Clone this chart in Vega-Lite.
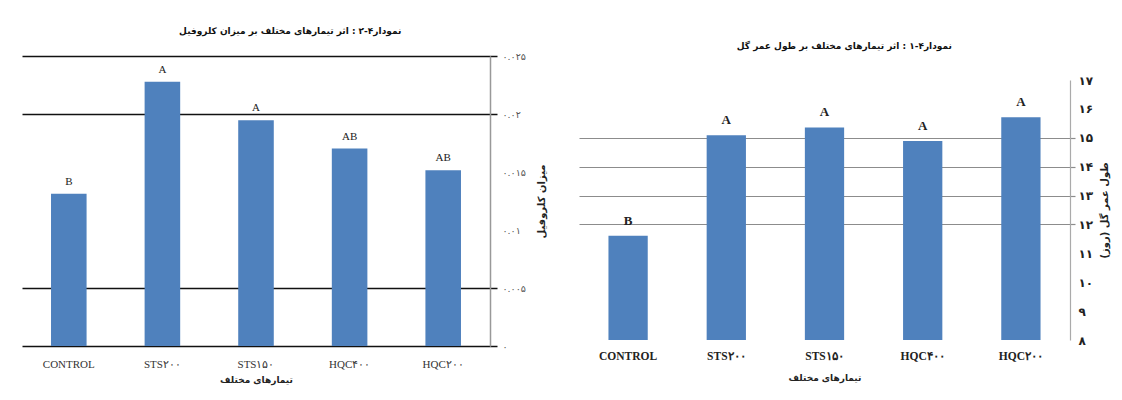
{
  "$schema": "https://vega.github.io/schema/vega-lite/v6.json",
  "padding": {"left": 22, "top": 27, "right": 5, "bottom": 5},
  "background": "white",
  "config": {"view": {"stroke": null}},
  "spacing": 32,
  "datasets": {
    "chl": [
      {"treatment": "CONTROL", "value": 0.01313, "letter": "B"},
      {"treatment": "STS۲۰۰", "value": 0.02278, "letter": "A"},
      {"treatment": "STS۱۵۰", "value": 0.01947, "letter": "A"},
      {"treatment": "HQC۴۰۰", "value": 0.01702, "letter": "AB"},
      {"treatment": "HQC۲۰۰", "value": 0.01515, "letter": "AB"}
    ],
    "life": [
      {"treatment": "CONTROL", "value": 11.61, "letter": "B"},
      {"treatment": "STS۲۰۰", "value": 15.09, "letter": "A"},
      {"treatment": "STS۱۵۰", "value": 15.36, "letter": "A"},
      {"treatment": "HQC۴۰۰", "value": 14.89, "letter": "A"},
      {"treatment": "HQC۲۰۰", "value": 15.71, "letter": "A"}
    ]
  },
  "hconcat": [
    {
      "width": 468,
      "height": 290,
      "title": {"text": "نمودار۴-۲ : اثر تیمارهای مختلف بر میزان کلروفیل", "font": "DejaVu Sans", "fontSize": 9, "fontWeight": "bold", "color": "#111", "offset": 15, "frame": "bounds", "dx": 6},
      "data": {"name": "chl"},
      "encoding": {
        "x": {
          "field": "treatment", "type": "nominal", "sort": null,
          "scale": {"paddingInner": 0.62, "paddingOuter": 0.31},
          "axis": {
            "title": "تیمارهای مختلف", "titleFont": "DejaVu Sans", "titleFontSize": 9, "titleFontWeight": "bold", "titleColor": "#222", "titlePadding": 6,
            "labelAngle": 0, "labelFont": "Liberation Serif", "labelFontSize": 11, "labelColor": "#333", "labelPadding": 12,
            "domain": false, "ticks": false
          }
        },
        "y": {
          "field": "value", "type": "quantitative",
          "scale": {"domain": [0, 0.025]},
          "axis": {
            "orient": "right",
            "values": [0, 0.005, 0.01, 0.015, 0.02, 0.025],
            "format": ".3~f",
            "labelExpr": "replace(replace(replace(replace(replace(replace(replace(replace(replace(replace(datum.label,regexp('0','g'),'۰'),regexp('1','g'),'۱'),regexp('2','g'),'۲'),regexp('3','g'),'۳'),regexp('4','g'),'۴'),regexp('5','g'),'۵'),regexp('6','g'),'۶'),regexp('7','g'),'۷'),regexp('8','g'),'۸'),regexp('9','g'),'۹')",
            "grid": true, "gridColor": "#111", "gridWidth": 1.5,
            "gridOpacity": {"condition": {"test": "datum.value > 0.008 && datum.value < 0.018", "value": 0}, "value": 1},
            "tickColor": "#111", "tickWidth": 1.5, "tickSize": 7,
            "tickOpacity": {"condition": {"test": "datum.value > 0.008 && datum.value < 0.018", "value": 0}, "value": 1},
            "domainColor": "#999", "domainWidth": 1.5,
            "labelFont": "DejaVu Sans", "labelFontSize": 9.5, "labelColor": "#555", "labelPadding": 5,
            "title": "میزان کلروفیل", "titleAngle": 270, "titleFont": "DejaVu Sans", "titleFontSize": 10, "titleFontWeight": "bold", "titleColor": "#222", "titlePadding": 21
          }
        }
      },
      "layer": [
        {"mark": {"type": "bar", "color": "#4F81BD"}},
        {"mark": {"type": "text", "baseline": "bottom", "dy": -7, "font": "Liberation Serif", "fontSize": 11, "color": "#222"}, "encoding": {"text": {"field": "letter"}}}
      ]
    },
    {
      "width": 491,
      "height": 284,
      "title": {"text": "نمودار۴-۱ : اثر تیمارهای مختلف بر طول عمر گل", "font": "DejaVu Sans", "fontSize": 9, "fontWeight": "bold", "color": "#111", "offset": 5, "frame": "bounds"},
      "data": {"name": "life"},
      "encoding": {
        "x": {
          "field": "treatment", "type": "nominal", "sort": null,
          "scale": {"paddingInner": 0.6, "paddingOuter": 0.3},
          "axis": {
            "title": "تیمارهای مختلف", "titleFont": "DejaVu Sans", "titleFontSize": 9, "titleFontWeight": "bold", "titleColor": "#222", "titlePadding": 12,
            "labelAngle": 0, "labelFont": "Liberation Serif", "labelFontSize": 11.5, "labelFontWeight": "bold", "labelColor": "#222", "labelPadding": 10,
            "domain": false, "ticks": false
          }
        },
        "y": {
          "field": "value", "type": "quantitative",
          "scale": {"domain": [8, 17], "zero": false, "range": [284, 24]},
          "axis": {
            "orient": "right",
            "values": [8, 9, 10, 11, 12, 13, 14, 15, 16, 17],
            "labelExpr": "replace(replace(replace(replace(replace(replace(replace(replace(replace(replace(datum.label,regexp('0','g'),'۰'),regexp('1','g'),'۱'),regexp('2','g'),'۲'),regexp('3','g'),'۳'),regexp('4','g'),'۴'),regexp('5','g'),'۵'),regexp('6','g'),'۶'),regexp('7','g'),'۷'),regexp('8','g'),'۸'),regexp('9','g'),'۹')",
            "grid": true, "gridColor": "#8c8c8c", "gridWidth": 1.2,
            "gridOpacity": {"condition": {"test": "datum.value < 12 || datum.value > 15", "value": 0}, "value": 1},
            "tickColor": "#8c8c8c", "tickWidth": 1.2, "tickSize": 5,
            "tickOpacity": {"condition": {"test": "datum.value < 12 || datum.value > 15", "value": 0}, "value": 1},
            "domainColor": "#aaa", "domainWidth": 1.2,
            "labelFont": "DejaVu Sans", "labelFontSize": 12, "labelFontWeight": "bold", "labelColor": "#222", "labelPadding": 3,
            "title": "طول عمر گل (روز)", "titleAngle": 270, "titleFont": "DejaVu Sans", "titleFontSize": 10, "titleFontWeight": "bold", "titleColor": "#222", "titlePadding": 17
          }
        }
      },
      "layer": [
        {"mark": {"type": "bar", "color": "#4F81BD"}, "encoding": {"y2": {"datum": 8}}},
        {"mark": {"type": "text", "baseline": "bottom", "dy": -8, "font": "Liberation Serif", "fontSize": 13, "fontWeight": "bold", "color": "#222"}, "encoding": {"text": {"field": "letter"}}}
      ]
    }
  ]
}
